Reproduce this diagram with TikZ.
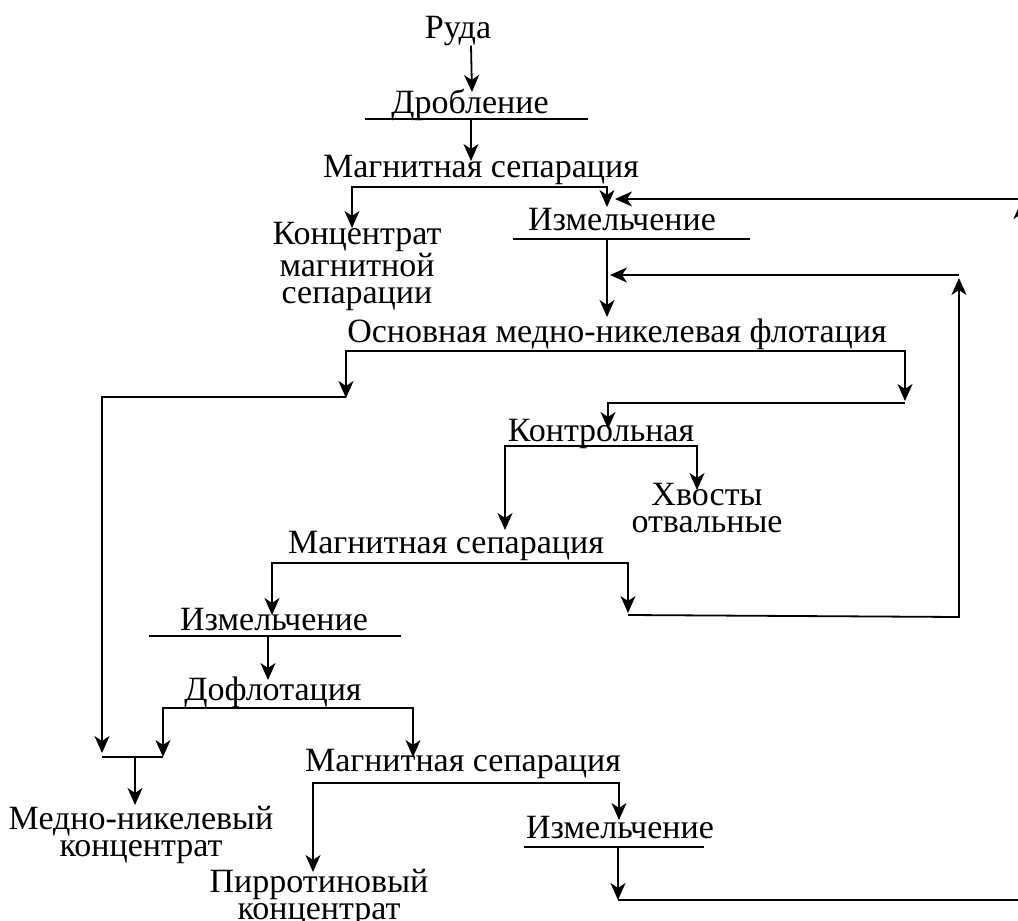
\documentclass[tikz,border=0pt]{standalone}
\usepackage{fontspec}
\setmainfont{Liberation Serif}
\usetikzlibrary{arrows.meta}
\tikzset{
  lbl/.style={font=\fontsize{34}{27}\selectfont, inner sep=0pt, anchor=base, align=center},
  bar/.style={line width=1.8pt},
  flow/.style={line width=1.8pt, -{Stealth[length=17pt,width=15pt,inset=5pt]}},
}
\begin{document}
\begin{tikzpicture}[x=1pt,y=-1pt]
  \clip (0,0) rectangle (1018,921);
  % process names
  \node[lbl] (ore)       at (458,38)  {Руда};
  \node[lbl] (crush)     at (470,113) {Дробление};
  \node[lbl] (magsepA)   at (481,177) {Магнитная сепарация};
  \node[lbl] (magconc)   at (357,303) {Концентрат\\магнитной\\сепарации};
  \node[lbl] (grindA)    at (622,230) {Измельчение};
  \node[lbl] (mainflot)  at (617,342) {Основная медно-никелевая флотация};
  \node[lbl] (scav)      at (601,441) {Контрольная};
  \node[lbl] (tails)     at (707,532) {Хвосты\\отвальные};
  \node[lbl] (magsepB)   at (446,553) {Магнитная сепарация};
  \node[lbl] (grindB)    at (274,630) {Измельчение};
  \node[lbl] (afterflot) at (273,700) {Дофлотация};
  \node[lbl] (cuniconc)  at (141,856) {Медно-никелевый\\концентрат};
  \node[lbl] (magsepC)   at (463,771) {Магнитная сепарация};
  \node[lbl] (grindC)    at (620,838) {Измельчение};
  \node[lbl] (pyrconc)   at (319,919) {Пирротиновый\\концентрат};

  % split points under the names
  \coordinate (crushbar) at (471,119);
  \coordinate (msAbar)   at (480,187);
  \coordinate (grAbar)   at (607,239);
  \coordinate (mfbar)    at (620,351);
  \coordinate (scbar)    at (600,446);
  \coordinate (msBbar)   at (450,563);
  \coordinate (grBbar)   at (268,636);
  \coordinate (afbar)    at (290,708);
  \coordinate (msCbar)   at (470,783);
  \coordinate (grCbar)   at (618,847);
  \coordinate (join)     at (135,757);
  \coordinate (concleft) at (102,397);

  % bars
  \draw[bar] (365,119)--(588,119);
  \draw[bar] (513,239)--(750,239);
  \draw[bar] (346,351)--(905,351);
  \draw[bar] (505,446)--(697,446);
  \draw[bar] (272,563)--(628,563);
  \draw[bar] (149,636)--(401,636);
  \draw[bar] (163,708)--(413,708);
  \draw[bar] (524,847)--(704,847);
  \draw[bar] (102,757)--(163,757);

  % flows
  \draw[flow] (ore.south -| crushbar) -- (472,92);
  \draw[flow] (crushbar) -- (471,161);
  \draw[flow] (msAbar) -| (352,228);
  \draw[flow] (msAbar) -| (607,207);
  \draw[flow] (grAbar) -- (607,317);
  \draw[flow] (mfbar) -| (346,398);
  \draw[flow] (346,397) -- (concleft) -- (102,753);
  \draw[flow] (mfbar) -| (905,401);
  \draw[flow] (905,403) -- (608,403) -- (608,429);
  \draw[flow] (scbar) -| (505,530);
  \draw[flow] (scbar) -| (697,490);
  \draw[flow] (msBbar) -| (272,615);
  \draw[flow] (msBbar) -| (628,613);
  \draw[flow] (628,615) -- (959,617) -- (959,278);
  \draw[flow] (959,275) -- (610,275);
  \draw[flow] (grBbar) -- (268,680);
  \draw[flow] (afbar) -| (163,757);
  \draw[flow] (afbar) -| (413,757);
  \draw[flow] (join) -- (135,805);
  \draw[flow] (msCbar) -| (313,872);
  \draw[flow] (msCbar) -| (619,820);
  \draw[flow] (grCbar) -- (618,900);
  \draw[flow] (618,900) -- (1021,900) -- (1021,202);
  \draw[flow] (1021,199) -- (615,199);
\end{tikzpicture}
\end{document}
